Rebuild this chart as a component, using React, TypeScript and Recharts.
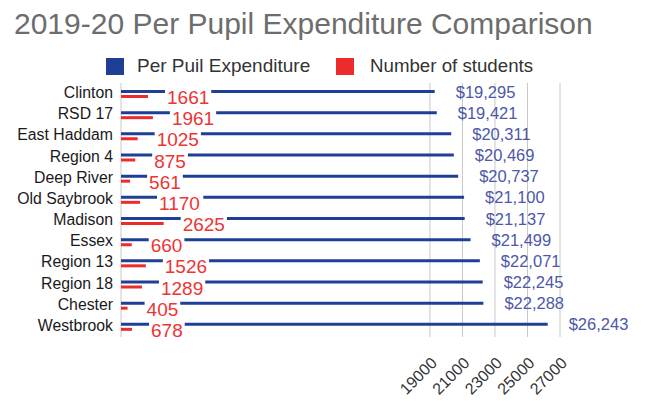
import React from 'react';
import { BarChart, Bar, XAxis, YAxis, CartesianGrid, LabelList } from 'recharts';

const categories = ['Clinton', 'RSD 17', 'East Haddam', 'Region 4', 'Deep River', 'Old Saybrook', 'Madison', 'Essex', 'Region 13', 'Region 18', 'Chester', 'Westbrook'];
const expenditure = [19295, 19421, 20311, 20469, 20737, 21100, 21137, 21499, 22071, 22245, 22288, 26243];
const students = [1661, 1961, 1025, 875, 561, 1170, 2625, 660, 1526, 1289, 405, 678];
const xTicks = [19000, 21000, 23000, 25000, 27000];

const data = categories.map((name, i) => ({ name, expenditure: expenditure[i], students: students[i] }));

const BLUE = '#1f3e96';
const RED = '#ee2b2b';
const FONT = '"Liberation Sans", Arial, sans-serif';

const BlueLabel = (props: any) => {
  const { x, y, width, height, value } = props;
  return (
    <text x={x + width + 21} y={y + height / 2} dominantBaseline="central" fontSize={16.5} fill="#4d58a8" fontFamily={FONT}>
      {'$' + Number(value).toLocaleString('en-US')}
    </text>
  );
};

const RedLabel = (props: any) => {
  const { x, y, width, height, value } = props;
  const s = String(value);
  const fs = 19;
  const w = s.length * 0.556 * fs;
  const cx = x + width + 19;
  const cy = y + height / 2;
  return (
    <g>
      <rect x={cx - 2} y={cy - 8} width={w + 4} height={16} fill="#ffffff" />
      <text x={cx} y={cy + 1} dominantBaseline="central" fontSize={fs} fill="#ec3535" fontFamily={FONT}>
        {s}
      </text>
    </g>
  );
};

const XTick = (props: any) => {
  const { x, y, payload } = props;
  const ax = x + 8;
  const ay = y + 19;
  return (
    <text x={ax} y={ay} textAnchor="end" fontSize={16} fill="#333" fontFamily={FONT} transform={`rotate(-45, ${ax}, ${ay})`}>
      {payload.value}
    </text>
  );
};

const YTick = (props: any) => {
  const { x, y, payload } = props;
  return (
    <text x={x} y={y - 1} textAnchor="end" dominantBaseline="central" fontSize={15.8} fill="#1a1a1a" fontFamily={FONT}>
      {payload.value}
    </text>
  );
};

export default function App() {
  return (
    <div style={{ position: 'absolute', left: 0, top: 0, width: 650, height: 401, background: '#fff', fontFamily: FONT }}>
      <div style={{ position: 'absolute', left: 14, top: 6, fontSize: 30, color: '#6d6d6d', whiteSpace: 'nowrap', lineHeight: '36px' }}>
        2019-20 Per Pupil Expenditure Comparison
      </div>
      <div style={{ position: 'absolute', left: 106, top: 58, width: 18, height: 17, background: BLUE }} />
      <div style={{ position: 'absolute', left: 137, top: 55, fontSize: 19, color: '#333', whiteSpace: 'nowrap', lineHeight: '22px' }}>
        Per Puil Expenditure
      </div>
      <div style={{ position: 'absolute', left: 336, top: 58, width: 18, height: 17, background: RED }} />
      <div style={{ position: 'absolute', left: 370, top: 55, fontSize: 18.7, color: '#333', whiteSpace: 'nowrap', lineHeight: '22px' }}>
        Number of students
      </div>
      <div style={{ position: 'absolute', left: 0, top: 0 }}>
        <BarChart
          width={650}
          height={401}
          data={data}
          layout="vertical"
          margin={{ top: 83, right: 90, bottom: 14, left: 0 }}
          barSize={3}
          barGap={2}
        >
          <CartesianGrid horizontal={false} vertical={true} stroke="#c8c8c8" />
          <XAxis
            type="number"
            domain={[0, 27000]}
            ticks={xTicks}
            allowDataOverflow
            axisLine={false}
            tickLine={false}
            height={50}
            tick={<XTick />}
            interval={0}
          />
          <YAxis
            type="category"
            dataKey="name"
            width={121}
            axisLine={false}
            tickLine={false}
            tickSize={0}
            tickMargin={8}
            tick={<YTick />}
            interval={0}
          />
          <Bar dataKey="expenditure" fill={BLUE} isAnimationActive={false}>
            <LabelList dataKey="expenditure" content={<BlueLabel />} />
          </Bar>
          <Bar dataKey="students" fill={RED} isAnimationActive={false}>
            <LabelList dataKey="students" content={<RedLabel />} />
          </Bar>
        </BarChart>
      </div>
    </div>
  );
}
